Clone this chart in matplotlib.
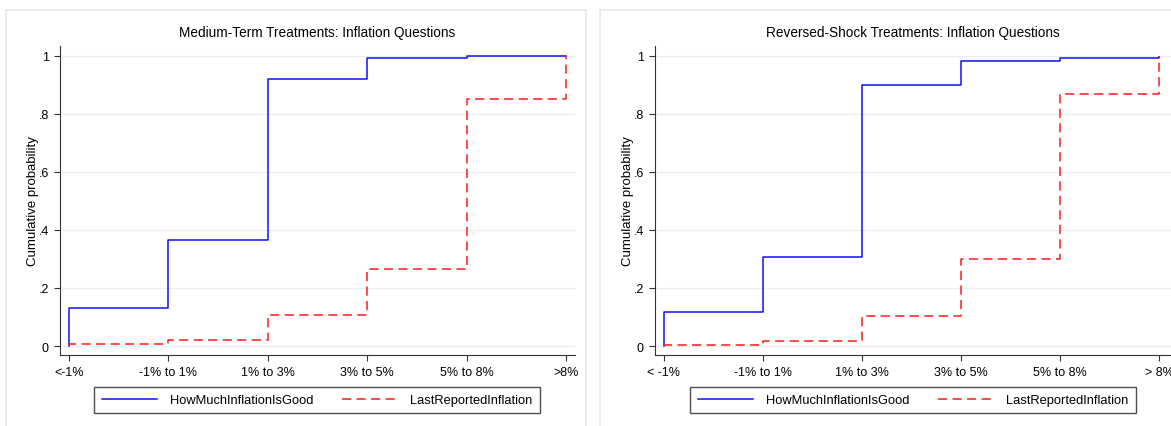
import numpy as np
import matplotlib
matplotlib.use("Agg")
from matplotlib import pyplot as plt
from matplotlib.patches import Rectangle

plt.rcParams['font.family'] = ['Liberation Sans', 'DejaVu Sans']

categories_left = ["<-1%", "-1% to 1%", "1% to 3%", "3% to 5%", "5% to 8%", ">8%"]
categories_right = ["< -1%", "-1% to 1%", "1% to 3%", "3% to 5%", "5% to 8%", "> 8%"]

# cumulative shares per category
mt_good = [0.13, 0.365, 0.921, 0.991, 0.998, 1.0]
mt_last = [0.007, 0.021, 0.106, 0.266, 0.850, 1.0]
rs_good = [0.118, 0.307, 0.898, 0.984, 0.993, 0.997]
rs_last = [0.004, 0.017, 0.103, 0.300, 0.869, 1.0]

yticks = [0, 0.2, 0.4, 0.6, 0.8, 1.0]
ytick_labels = ["0", ".2", ".4", ".6", ".8", "1"]

fig = plt.figure(figsize=(11.71, 4.27), dpi=100)

# panel frames
for x0, w in [(6 / 1171, 580 / 1171), (600 / 1171, 580 / 1171)]:
    fig.patches.append(Rectangle((x0, -0.05), w, 1 - 11 / 427 + 0.05, transform=fig.transFigure,
                                 fill=False, edgecolor="#e3eaee", linewidth=1.2))


def draw_panel(rect, title, labels, good, last, xmax, legend_x):
    ax = fig.add_axes(rect)
    pos = np.arange(len(labels))
    xs = np.r_[0, pos]
    ax.plot(xs, np.r_[0, good], drawstyle="steps-post", color="#1010ff", lw=1.1,
            label="HowMuchInflationIsGood")
    ax.plot(xs, np.r_[0, last], drawstyle="steps-post", color="#ff1a1a", lw=1.1,
            dashes=(6, 3.5), label="LastReportedInflation")
    ax.set_xlim(-0.09, xmax)
    ax.set_ylim(-0.031, 1.034)
    ax.set_xticks(pos)
    ax.set_xticklabels(labels, fontsize=9)
    ax.set_yticks(yticks)
    ax.set_yticklabels(ytick_labels, fontsize=9)
    ax.grid(axis="y", color="#e6eff1", lw=1)
    ax.set_axisbelow(True)
    ax.spines['top'].set_visible(False)
    ax.spines['right'].set_visible(False)
    ax.spines['left'].set_color("#333333")
    ax.spines['bottom'].set_color("#333333")
    ax.tick_params(length=4, color="#333333", pad=4)
    ax.set_ylabel("Cumulative probability", fontsize=9.5)
    ax.yaxis.set_label_coords(-21 / (rect[2] * 1171), 0.5)
    ax.set_title(title, fontsize=9.8, pad=7)
    leg = fig.legend(handles=ax.get_lines(), loc="center", ncol=2,
                     bbox_to_anchor=(legend_x, 1 - 401 / 427), fontsize=9.3,
                     frameon=True, fancybox=False, edgecolor="#222222",
                     handlelength=4.3, handletextpad=1.0, columnspacing=2.2,
                     borderpad=0.55)
    leg.get_frame().set_linewidth(1.0)
    return ax


draw_panel([60 / 1171, 1 - 356 / 427, 515 / 1171, 309 / 427],
           "Medium-Term Treatments: Inflation Questions",
           categories_left, mt_good, mt_last, 5.09, 317 / 1171)
draw_panel([655 / 1171, 1 - 356 / 427, 516 / 1171, 309 / 427],
           "Reversed-Shock Treatments: Inflation Questions",
           categories_right, rs_good, rs_last, 5.12, 913 / 1171)

fig.savefig("out.png", dpi=100, facecolor="white")
